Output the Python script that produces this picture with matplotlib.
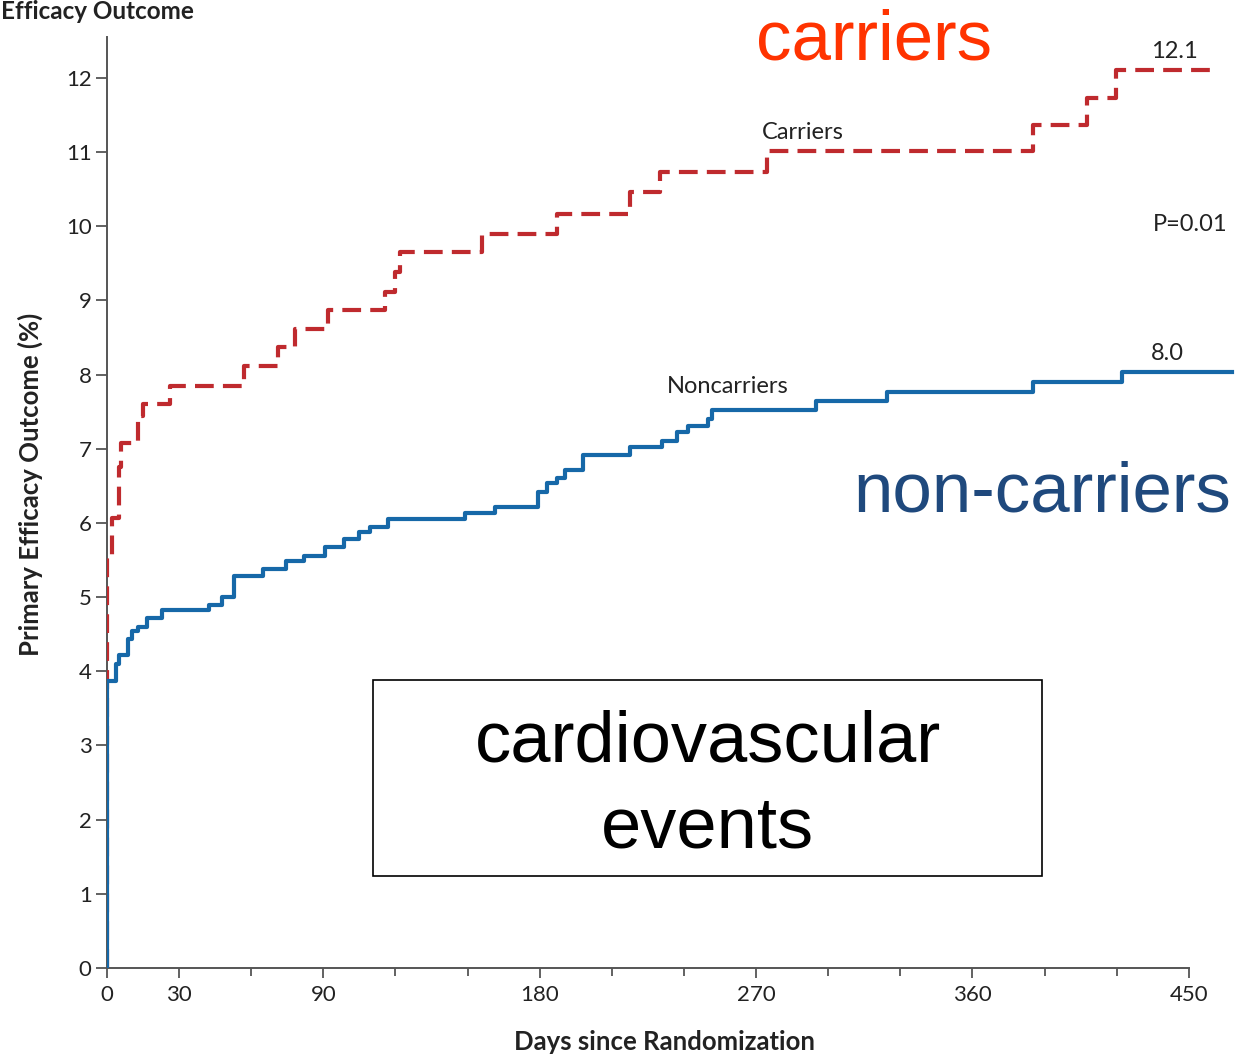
import matplotlib.pyplot as plt
from matplotlib.patches import Rectangle

# Kaplan-Meier style cumulative event curves
carrier_days = [0, 0, 2, 5, 6, 13, 15, 26, 57, 71, 78, 92, 115.6, 120, 122,
                156, 187, 217.5, 230, 274.5, 385, 407.7, 419.7, 461.7]
carrier_pct = [0, 5.55, 6.07, 6.76, 7.08, 7.44, 7.6, 7.84, 8.11, 8.37, 8.62,
               8.87, 9.12, 9.38, 9.65, 9.89, 10.17, 10.46, 10.73, 11.01,
               11.36, 11.73, 12.1, 12.1]

noncarrier_days = [0, 0, 3.6, 5, 8.7, 10.2, 13, 16.6, 23, 42.4, 48, 53, 65,
                   74.5, 82, 90.5, 98.6, 105, 109.4, 117, 149, 161.4, 179.3,
                   183, 187, 190.5, 198, 217.5, 231, 237, 241.7, 250, 251.7,
                   295, 324.5, 385, 422, 468]
noncarrier_pct = [0, 3.87, 4.1, 4.22, 4.43, 4.55, 4.6, 4.72, 4.82, 4.89, 5.0,
                  5.28, 5.38, 5.49, 5.55, 5.67, 5.78, 5.88, 5.94, 6.05, 6.13,
                  6.22, 6.42, 6.54, 6.61, 6.71, 6.92, 7.02, 7.1, 7.22, 7.31,
                  7.4, 7.52, 7.64, 7.76, 7.9, 8.03, 8.03]

major_ticks = [0, 30, 90, 180, 270, 360, 450]
minor_ticks = [60, 120, 150, 210, 240, 300, 330, 390, 420]
y_ticks = list(range(0, 13))

red = "#bf2a2e"
blue = "#1668a8"
font = "Lato"
ink = "#222222"

W, H = 1236, 1056
fig = plt.figure(figsize=(W / 100, H / 100), dpi=100)
# axes placed so that day 0 / 0% sits at pixel (107, 968)
ax = fig.add_axes([107 / W, (H - 968) / H, 1127.5 / W, 930.9 / H])

ax.step(carrier_days, carrier_pct, where="post", color=red, lw=3,
        linestyle=(0, (4.5, 2.2)), zorder=3)
ax.step(noncarrier_days, noncarrier_pct, where="post", color=blue, lw=3,
        zorder=4)

ax.set_xlim(0, 469)
ax.set_ylim(0, 12.55)

for s in ["top", "right"]:
    ax.spines[s].set_visible(False)
for s in ["left", "bottom"]:
    ax.spines[s].set_color("#555555")
    ax.spines[s].set_linewidth(1.4)
ax.spines["bottom"].set_bounds(0, 450)

ax.set_xticks(major_ticks)
ax.set_xticks(minor_ticks, minor=True)
ax.set_yticks(y_ticks)
ax.tick_params(axis="x", which="major", length=7, width=1.3, color="#555555",
               pad=5, labelsize=16)
ax.tick_params(axis="x", which="minor", length=5.5, width=1.3, color="#555555")
ax.tick_params(axis="y", length=8, width=1.3, color="#555555", pad=3,
               labelsize=16)
for lab in ax.get_xticklabels() + ax.get_yticklabels():
    lab.set_fontfamily(font)
    lab.set_color(ink)

ax.set_ylabel("Primary Efficacy Outcome (%)", fontsize=18.5, fontweight="bold",
              family=font, color=ink, va="center")
ax.yaxis.set_label_coords((30 - 107) / 1127.5, 0.519)
ax.set_xlabel("Days since Randomization", fontsize=18.5, fontweight="bold",
              family=font, color=ink, va="center")
ax.xaxis.set_label_coords((664 - 107) / 1127.5, (968 - 1042) / 930.9)

# curve annotations
ax.text(289.5, 11.27, "Carriers", ha="center", va="center", fontsize=17,
        family=font, color=ink)
ax.text(258.3, 7.84, "Noncarriers", ha="center", va="center", fontsize=17,
        family=font, color=ink)
ax.text(444, 12.36, "12.1", ha="center", va="center", fontsize=17,
        family=font, color=ink)
ax.text(441, 8.29, "8.0", ha="center", va="center", fontsize=17,
        family=font, color=ink)
ax.text(450.5, 10.03, "P=0.01", ha="center", va="center", fontsize=17,
        family=font, color=ink)

# heading at top left
fig.text(1 / W, 1 - 19 / H, "Efficacy Outcome", ha="left", va="baseline",
         fontsize=17.5, fontweight="bold", family=font, color=ink)

# slide overlays
fig.text(874 / W, 1 - 60 / H, "carriers", ha="center", va="baseline",
         fontsize=51, family="Liberation Sans", color="#ff3300")
fig.text(1042 / W, 1 - 512 / H, "non-carriers", ha="center", va="baseline",
         fontsize=51, family="Liberation Sans", color="#1f497d")

fig.patches.append(Rectangle((373 / W, 1 - 876 / H), 669 / W, 196 / H,
                             transform=fig.transFigure, fill=False,
                             edgecolor="black", lw=1.2))
fig.text(707.5 / W, 1 - 762 / H, "cardiovascular", ha="center",
         va="baseline", fontsize=52, family="Liberation Sans", color="black")
fig.text(707.5 / W, 1 - 848 / H, "events", ha="center", va="baseline",
         fontsize=52, family="Liberation Sans", color="black")

fig.savefig("out.png", dpi=100)
